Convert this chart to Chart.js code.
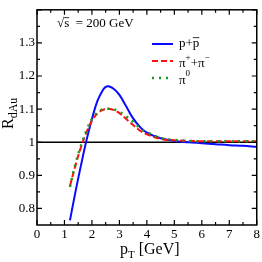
<!DOCTYPE html>
<html>
<head>
<meta charset="utf-8">
<script src="https://cdn.jsdelivr.net/npm/chart.js@4.4.0/dist/chart.umd.min.js"></script>
<style>
  html, body { margin: 0; padding: 0; background: #fff; }
  #wrap { width: 262px; height: 262px; }
</style>
</head>
<body>
<div id="wrap"><canvas id="c" width="262" height="262"></canvas></div>
<script>
const ptValues = [1.2, 1.4, 1.6, 1.8, 2.0, 2.2, 2.4, 2.5, 2.6, 2.8, 3.0, 3.25, 3.5, 3.75, 4.0, 4.5, 5.0, 5.5, 6.0, 6.5, 7.0, 7.5, 8.0];
const protonR = [0.764, 0.85, 0.93, 1.005, 1.07, 1.125, 1.158, 1.167, 1.169, 1.161, 1.143, 1.108, 1.072, 1.046, 1.029, 1.012, 1.004, 1.0, 0.997, 0.994, 0.991, 0.989, 0.986];
const pionChargedR = [0.868, 0.93, 0.985, 1.03, 1.065, 1.087, 1.098, 1.1, 1.101, 1.097, 1.088, 1.07, 1.052, 1.035, 1.024, 1.01, 1.006, 1.004, 1.003, 1.003, 1.003, 1.003, 1.003];
const pionNeutralR = [0.865, 0.935, 0.99, 1.035, 1.07, 1.09, 1.1, 1.101, 1.101, 1.099, 1.092, 1.078, 1.062, 1.042, 1.03, 1.013, 1.007, 1.004, 1.003, 1.003, 1.003, 1.003, 1.003];
const refX = [0, 8];
const refY = [1, 1];
const xTickLabels = [0, 1, 2, 3, 4, 5, 6, 7, 8];
const yTickLabels = [0.8, 0.9, 1.0, 1.1, 1.2, 1.3];

const serif = "'Liberation Serif', 'DejaVu Serif', serif";

function pts(xs, ys) {
  return xs.map((x, i) => ({ x, y: ys[i] }));
}

// draws a run of text pieces with their own size / vertical shift / overline
function drawParts(ctx, parts, x, y) {
  let cx = x;
  parts.forEach((p) => {
    ctx.font = `${p.size}px ${serif}`;
    const w = ctx.measureText(p.t).width;
    ctx.fillText(p.t, cx, y + (p.dy || 0));
    if (p.over) {
      ctx.beginPath();
      ctx.lineWidth = 0.8;
      const oy = y + (p.dy || 0) - p.size * 0.72;
      ctx.moveTo(cx + (p.overStart || 0), oy);
      ctx.lineTo(cx + w, oy);
      ctx.stroke();
    }
    cx += w;
  });
  return cx;
}

const decor = {
  id: "decor",
  afterDatasetsDraw(chart) {
    const { ctx, chartArea: a, scales } = chart;
    const xs = scales.x, ys = scales.y;
    ctx.save();
    ctx.strokeStyle = "#000";
    ctx.fillStyle = "#000";

    // frame
    ctx.lineWidth = 1.5;
    ctx.strokeRect(a.left, a.top, a.right - a.left, a.bottom - a.top);

    // inward ticks
    ctx.lineWidth = 1.2;
    ctx.beginPath();
    for (let v = 0; v <= 8.001; v += 0.5) {
      const px = xs.getPixelForValue(v);
      const len = Math.abs(v - Math.round(v)) < 0.01 ? 5 : 3;
      ctx.moveTo(px, a.bottom); ctx.lineTo(px, a.bottom - len);
      ctx.moveTo(px, a.top); ctx.lineTo(px, a.top + len);
    }
    for (let i = 16; i <= 28; i++) {
      const v = i * 0.05;
      const py = ys.getPixelForValue(v);
      const len = i % 2 === 0 ? 5 : 3;
      ctx.moveTo(a.left, py); ctx.lineTo(a.left + len, py);
      ctx.moveTo(a.right, py); ctx.lineTo(a.right - len, py);
    }
    ctx.stroke();

    ctx.textAlign = "left";
    ctx.textBaseline = "alphabetic";

    // energy label
    ctx.strokeStyle = "#000";
    let x = drawParts(ctx, [{ t: "\u221A", size: 13 }], 57, 27);
    x = drawParts(ctx, [{ t: "s", size: 13, over: true }], x, 27);
    drawParts(ctx, [{ t: "  = 200 GeV", size: 13 }], x, 27);

    // legend
    const items = [
      { ds: 0, y: 44, parts: [{ t: "p+", size: 13 }, { t: "p", size: 13, over: true }] },
      { ds: 1, y: 61, parts: [{ t: "\u03C0", size: 13 }, { t: "+", size: 9, dy: -7 }, { t: "+\u03C0", size: 13 }, { t: "\u2212", size: 9, dy: -7 }] },
      { ds: 2, y: 78, parts: [{ t: "\u03C0", size: 13 }, { t: "0", size: 9, dy: -8 }] },
    ];
    items.forEach((it) => {
      const ds = chart.data.datasets[it.ds];
      ctx.save();
      ctx.strokeStyle = ds.borderColor;
      ctx.lineWidth = ds.borderWidth;
      ctx.setLineDash(ds.borderDash || []);
      ctx.beginPath();
      ctx.moveTo(152, it.y);
      ctx.lineTo(173, it.y);
      ctx.stroke();
      ctx.restore();
      drawParts(ctx, it.parts, 179, it.y + (it.ds === 0 ? 3 : 6));
    });

    // x title
    x = drawParts(ctx, [{ t: "p", size: 16 }], 120, 254);
    x = drawParts(ctx, [{ t: "T", size: 11, dy: 4 }], x, 254);
    drawParts(ctx, [{ t: " [GeV]", size: 16 }], x, 254);

    // y title
    ctx.save();
    ctx.translate(13, 129);
    ctx.rotate(-Math.PI / 2);
    x = drawParts(ctx, [{ t: "R", size: 16 }], 0, 0);
    drawParts(ctx, [{ t: "dAu", size: 12, dy: 4 }], x, 0);
    ctx.restore();

    ctx.restore();
  },
};

new Chart(document.getElementById("c"), {
  type: "scatter",
  data: {
    datasets: [
      {
        label: "p+p",
        data: pts(ptValues, protonR),
        showLine: true,
        borderColor: "#0a0aff",
        borderWidth: 2,
        pointRadius: 0,
        tension: 0.4,
        order: 2,
      },
      {
        label: "pi+ + pi-",
        data: pts(ptValues, pionChargedR),
        showLine: true,
        borderColor: "#ff1010",
        borderWidth: 2,
        borderDash: [6, 3],
        pointRadius: 0,
        tension: 0.4,
        order: 1,
      },
      {
        label: "pi0",
        data: pts(ptValues, pionNeutralR),
        showLine: true,
        borderColor: "#1a9a1a",
        borderWidth: 2.5,
        borderDash: [2, 5],
        pointRadius: 0,
        tension: 0.4,
        order: 0,
      },
      {
        label: "ref",
        data: pts(refX, refY),
        showLine: true,
        borderColor: "#000",
        borderWidth: 1.5,
        pointRadius: 0,
        order: 10,
      },
    ],
  },
  options: {
    responsive: false,
    animation: false,
    events: [],
    layout: { padding: { top: 2.5, right: 4, left: 0, bottom: 0 } },
    plugins: { legend: { display: false }, tooltip: { enabled: false } },
    scales: {
      x: {
        type: "linear",
        min: 0,
        max: 8,
        grid: { display: false, drawTicks: false },
        border: { display: false },
        afterBuildTicks: (s) => { s.ticks = xTickLabels.map((v) => ({ value: v })); },
        afterFit: (s) => { s.height = 37; },
        ticks: { color: "#000", padding: 2, font: { family: serif, size: 13 }, maxRotation: 0 },
      },
      y: {
        min: 0.75,
        max: 1.4,
        grid: { display: false, drawTicks: false },
        border: { display: false },
        afterBuildTicks: (s) => { s.ticks = yTickLabels.map((v) => ({ value: v })); },
        afterFit: (s) => { s.width = 37; },
        ticks: {
          color: "#000",
          padding: 2,
          font: { family: serif, size: 13 },
          callback: (v) => (Math.abs(v - 1) < 1e-6 ? "1" : v.toFixed(1)),
        },
      },
    },
  },
  plugins: [decor],
});
</script>
</body>
</html>
